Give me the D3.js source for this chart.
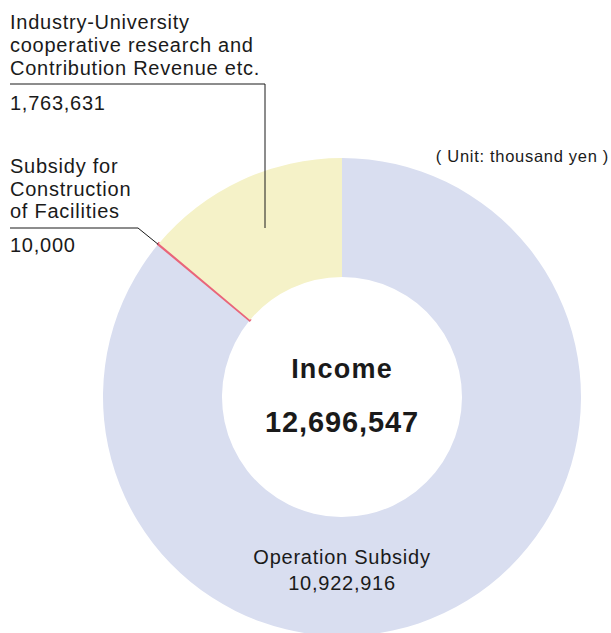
<!DOCTYPE html>
<html><head><meta charset="utf-8">
<script src="https://cdn.jsdelivr.net/npm/d3@7"></script>
<style>body{margin:0;background:#fff}svg{display:block}text{font-family:"Liberation Sans",Arial,sans-serif;fill:#1a1a1a}</style>
</head><body>
<script>
const categories = ["Operation Subsidy", "Subsidy for Construction of Facilities", "Industry-University cooperative research and Contribution Revenue etc."];
const values = [10922916, 10000, 1763631];
const colors = ["#d9def0", "#e9657a", "#f5f2c8"];
const totalLabel = "Income";
const unitLabel = "( Unit: thousand yen )";

const W = 611, H = 633;
const svg = d3.select("body").append("svg").attr("width", W).attr("height", H);
const cx = 342, cy = 397, R = 239, r0 = 120;
const fmt = d3.format(",");
const total = d3.sum(values);
const FS = "20px", LS = "0.75px";

const pie = d3.pie().sort(null).value(d => d)(values);
const arc = d3.arc().innerRadius(r0).outerRadius(R);
const g = svg.append("g").attr("transform", `translate(${cx},${cy})`);
g.selectAll("path").data(pie).enter().append("path")
  .attr("d", arc).attr("fill", (d, i) => colors[i])
  .attr("stroke", (d, i) => i === 1 ? colors[1] : "none")
  .attr("stroke-width", 2.2);

// center text
g.append("text").attr("text-anchor", "middle").attr("y", -28).attr("dy", "0.35em")
  .style("font-weight", "bold").style("font-size", "27px").style("letter-spacing", "1.2px").text(totalLabel);
g.append("text").attr("text-anchor", "middle").attr("y", 25).attr("dy", "0.35em")
  .style("font-weight", "bold").style("font-size", "29px").style("letter-spacing", "0.9px").text(fmt(total));

// Operation subsidy label
g.append("text").attr("text-anchor", "middle").attr("y", 160).attr("dy", "0.35em")
  .style("font-size", FS).style("letter-spacing", LS).text(categories[0]);
g.append("text").attr("text-anchor", "middle").attr("y", 186).attr("dy", "0.35em")
  .style("font-size", FS).style("letter-spacing", LS).text(fmt(values[0]));

// Unit
svg.append("text").attr("x", 609).attr("y", 156).attr("dy", "0.35em").attr("text-anchor", "end")
  .style("font-size", "16.5px").style("letter-spacing", "0.7px").text(unitLabel);

// Top-left label (Industry-University)
const lab1 = ["Industry-University", "cooperative research and", "Contribution Revenue etc."];
lab1.forEach((t, i) => svg.append("text").attr("x", 10).attr("y", 22 + i * 23).attr("dy", "0.35em")
  .style("font-size", FS).style("letter-spacing", LS).text(t));
svg.append("text").attr("x", 10).attr("y", 103).attr("dy", "0.35em")
  .style("font-size", FS).style("letter-spacing", LS).text(fmt(values[2]));
svg.append("path").attr("d", "M10,84H265V228").attr("fill", "none").attr("stroke", "#1a1a1a").attr("stroke-width", 1);

// Subsidy for Construction label
const lab2 = ["Subsidy for", "Construction", "of Facilities"];
lab2.forEach((t, i) => svg.append("text").attr("x", 10).attr("y", 166 + i * 22.5).attr("dy", "0.35em")
  .style("font-size", FS).style("letter-spacing", LS).text(t));
svg.append("text").attr("x", 10).attr("y", 245).attr("dy", "0.35em")
  .style("font-size", FS).style("letter-spacing", LS).text(fmt(values[1]));
const a = pie[1].startAngle;
const ex = cx + R * Math.sin(a), ey = cy - R * Math.cos(a);
svg.append("path").attr("d", `M10,228H138L${ex},${ey}`).attr("fill", "none").attr("stroke", "#1a1a1a").attr("stroke-width", 1);
</script>
</body></html>
